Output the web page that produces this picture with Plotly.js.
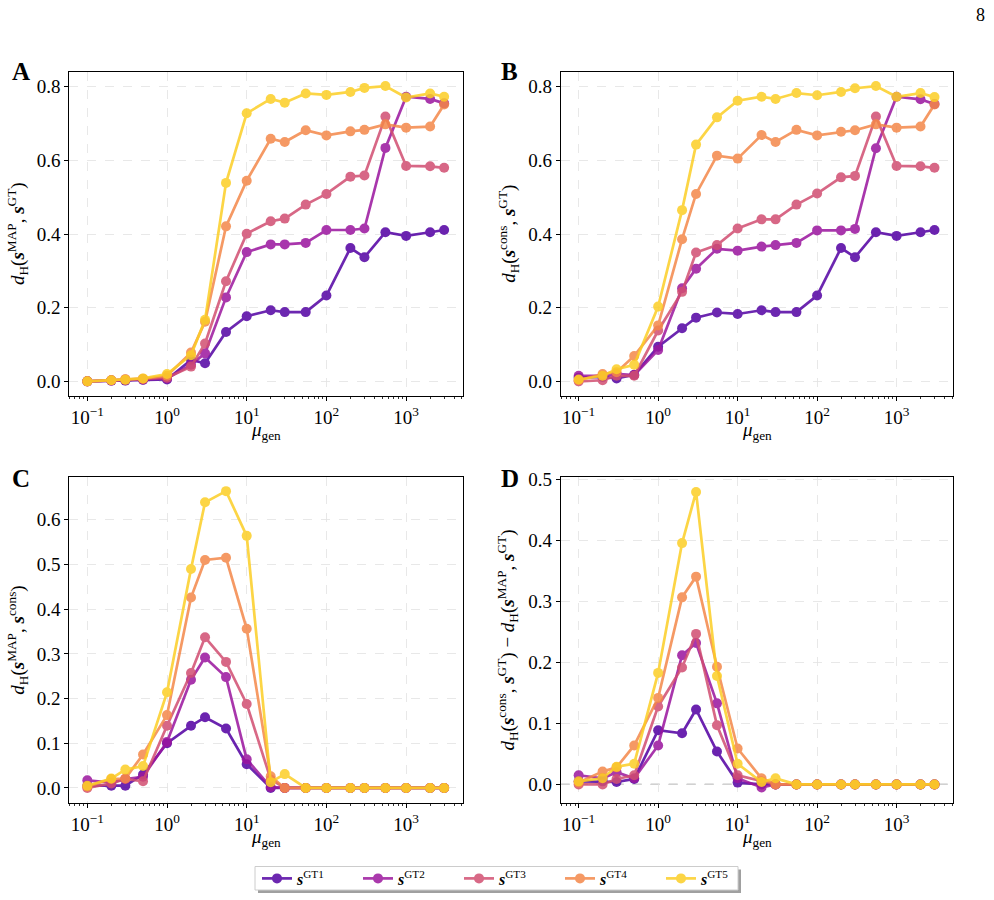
<!DOCTYPE html>
<html>
<head>
<meta charset="utf-8">
<script src="https://cdn.plot.ly/plotly-3.0.1.min.js"></script>
<style>
  html, body { margin: 0; padding: 0; background: #ffffff; }
  #chart { width: 994px; height: 900px; }
</style>
</head>
<body>
<div id="chart"></div>
<script>
// Generation rate values (log x axis)
const mu = [0.1, 0.2, 0.3, 0.5, 1, 2, 3, 5.5, 10, 20, 30, 55, 100, 200, 300, 550, 1000, 2000, 3000];

// Panel A: d_H(s^MAP, s^GT)
const mapGt1 = [0, 0.002, 0.002, 0.004, 0.005, 0.058, 0.049, 0.134, 0.177, 0.193, 0.188, 0.188, 0.233, 0.362, 0.337, 0.405, 0.395, 0.405, 0.411];
const mapGt2 = [0, 0.002, 0.003, 0.005, 0.008, 0.045, 0.076, 0.228, 0.351, 0.372, 0.372, 0.376, 0.411, 0.411, 0.415, 0.634, 0.773, 0.767, 0.755];
const mapGt3 = [0, 0.003, 0.005, 0.006, 0.010, 0.040, 0.103, 0.272, 0.401, 0.435, 0.442, 0.480, 0.509, 0.556, 0.559, 0.719, 0.585, 0.584, 0.580];
const mapGt4 = [0, 0.003, 0.006, 0.007, 0.015, 0.078, 0.162, 0.421, 0.545, 0.659, 0.650, 0.682, 0.668, 0.679, 0.683, 0.698, 0.689, 0.692, 0.752];
const mapGt5 = [0, 0.003, 0.004, 0.008, 0.020, 0.071, 0.167, 0.539, 0.728, 0.767, 0.757, 0.782, 0.778, 0.786, 0.797, 0.802, 0.771, 0.782, 0.773];

// Panel B: d_H(s^cons, s^GT)
const consGt1 = [0.010, 0.012, 0.008, 0.018, 0.094, 0.144, 0.173, 0.187, 0.183, 0.193, 0.188, 0.188, 0.233, 0.362, 0.337, 0.405, 0.395, 0.405, 0.411];
const consGt2 = [0.015, 0.015, 0.020, 0.017, 0.085, 0.253, 0.306, 0.360, 0.355, 0.366, 0.370, 0.376, 0.410, 0.410, 0.414, 0.633, 0.773, 0.766, 0.753];
const consGt3 = [0, 0.003, 0.015, 0.015, 0.138, 0.243, 0.350, 0.370, 0.415, 0.440, 0.440, 0.480, 0.510, 0.554, 0.558, 0.719, 0.585, 0.584, 0.580];
const consGt4 = [0.003, 0.020, 0.025, 0.069, 0.152, 0.386, 0.509, 0.613, 0.605, 0.669, 0.650, 0.683, 0.668, 0.678, 0.682, 0.698, 0.689, 0.692, 0.752];
const consGt5 = [0.005, 0.015, 0.033, 0.045, 0.203, 0.465, 0.643, 0.717, 0.762, 0.773, 0.767, 0.783, 0.777, 0.786, 0.796, 0.802, 0.773, 0.783, 0.772];

// Panel C: d_H(s^MAP, s^cons)
const mapCons1 = [0.005, 0.005, 0.005, 0.030, 0.100, 0.139, 0.158, 0.133, 0.053, 0, 0, 0, 0, 0, 0, 0, 0, 0, 0];
const mapCons2 = [0.017, 0.012, 0.020, 0.025, 0.103, 0.242, 0.292, 0.248, 0.064, 0.002, 0, 0, 0, 0, 0, 0, 0, 0, 0];
const mapCons3 = [0, 0.010, 0.020, 0.015, 0.139, 0.257, 0.337, 0.282, 0.188, 0.019, 0, 0, 0, 0, 0, 0, 0, 0, 0];
const mapCons4 = [0.003, 0.020, 0.021, 0.075, 0.163, 0.426, 0.510, 0.515, 0.356, 0.026, 0, 0, 0, 0, 0, 0, 0, 0, 0];
const mapCons5 = [0.005, 0.021, 0.041, 0.049, 0.214, 0.490, 0.639, 0.664, 0.564, 0.013, 0.031, 0, 0, 0, 0, 0, 0, 0, 0];

// Panel D: d_H(s^cons, s^GT) - d_H(s^MAP, s^GT)
const diff1 = [0.005, 0.005, 0.004, 0.009, 0.089, 0.084, 0.123, 0.054, 0.003, 0, 0, 0, 0, 0, 0, 0, 0, 0, 0];
const diff2 = [0.015, 0.010, 0.020, 0.010, 0.064, 0.212, 0.232, 0.133, 0.010, -0.005, 0, 0, 0, 0, 0, 0, 0, 0, 0];
const diff3 = [0, 0, 0.009, 0.015, 0.128, 0.192, 0.247, 0.097, 0.015, 0.005, 0, 0, 0, 0, 0, 0, 0, 0, 0];
const diff4 = [0.003, 0.021, 0.028, 0.064, 0.142, 0.307, 0.341, 0.193, 0.059, 0.010, 0, 0, 0, 0, 0, 0, 0, 0, 0];
const diff5 = [0.005, 0.010, 0.029, 0.034, 0.183, 0.396, 0.480, 0.178, 0.034, 0.004, 0.010, 0, 0, 0, 0, 0, 0, 0, 0];

const seriesNames = ['GT1', 'GT2', 'GT3', 'GT4', 'GT5'];
// plasma colormap samples
const seriesColors = ['#5302a3', '#9c179e', '#d24f71', '#f48849', '#fcce25'];

const xTickVals = [0.1, 1, 10, 100, 1000];
const xTickText = ['10<sup>\u22121</sup>', '10<sup>0</sup>', '10<sup>1</sup>', '10<sup>2</sup>', '10<sup>3</sup>'];

const panels = [
  { sets: [mapGt1, mapGt2, mapGt3, mapGt4, mapGt5], ax: '' },
  { sets: [consGt1, consGt2, consGt3, consGt4, consGt5], ax: '2' },
  { sets: [mapCons1, mapCons2, mapCons3, mapCons4, mapCons5], ax: '3' },
  { sets: [diff1, diff2, diff3, diff4, diff5], ax: '4' }
];

const serif = '"Liberation Serif", "DejaVu Serif", serif';
const W = 994, H = 900;
const px = (a, b) => [a / W, b / W];
const py = (top, bottom) => [1 - bottom / H, 1 - top / H];

const traces = [];
panels.forEach((p, pi) => {
  p.sets.forEach((ys, si) => {
    traces.push({
      type: 'scatter',
      mode: 'lines+markers',
      x: mu,
      y: ys,
      xaxis: 'x' + p.ax,
      yaxis: 'y' + p.ax,
      name: '<b><i>s</i></b><sup>' + seriesNames[si] + '</sup>',
      legendgroup: seriesNames[si],
      showlegend: pi === 0,
      opacity: 0.85,
      line: { color: seriesColors[si], width: 2.7 },
      marker: { color: seriesColors[si], size: 10 }
    });
  });
});

// minor tick positions for the log axes
const minorVals = [];
for (let e = -2; e <= 4; e++) {
  for (let k = 2; k <= 9; k++) minorVals.push(k * Math.pow(10, e));
}

const tickFont = { family: serif, size: 19, color: '#000' };
const titleFont = { family: serif, size: 19, color: '#000' };

function xAxis(domain, anchor) {
  return {
    type: 'log',
    domain: domain,
    anchor: anchor,
    range: [-1.226, 3.71],
    tickmode: 'array',
    tickvals: xTickVals,
    ticktext: xTickText,
    ticks: 'outside',
    ticklen: 4,
    tickwidth: 1,
    tickcolor: '#000',
    minor: { tickmode: 'array', tickvals: minorVals, ticks: 'outside', ticklen: 2, tickwidth: 0.8, tickcolor: '#000', showgrid: false },
    showline: true,
    linecolor: '#000',
    linewidth: 1,
    mirror: true,
    showgrid: true,
    gridcolor: '#e2e2e2',
    griddash: 'dash',
    gridwidth: 0.8,
    zeroline: false,
    tickfont: tickFont
  };
}

function yAxis(domain, anchor, range, dtick, title, standoff) {
  return {
    domain: domain,
    anchor: anchor,
    range: range,
    tick0: 0,
    dtick: dtick,
    tickformat: '.1f',
    ticks: 'outside',
    ticklen: 4,
    tickwidth: 1,
    tickcolor: '#000',
    showline: true,
    linecolor: '#000',
    linewidth: 1,
    mirror: true,
    showgrid: true,
    gridcolor: '#e2e2e2',
    griddash: 'dash',
    gridwidth: 0.8,
    zeroline: false,
    tickfont: tickFont,
    title: { text: title, font: titleFont, standoff: standoff }
  };
}

const S = '<b><i>s</i></b>';
const titleA = '<i>d</i><sub>H</sub>(' + S + '<sup>MAP</sup>, ' + S + '<sup>GT</sup>)';
const titleB = '<i>d</i><sub>H</sub>(' + S + '<sup>cons</sup>, ' + S + '<sup>GT</sup>)';
const titleC = '<i>d</i><sub>H</sub>(' + S + '<sup>MAP</sup>, ' + S + '<sup>cons</sup>)';
const titleD = '<i>d</i><sub>H</sub>(' + S + '<sup>cons</sup>, ' + S + '<sup>GT</sup>) \u2212 <i>d</i><sub>H</sub>(' + S + '<sup>MAP</sup>, ' + S + '<sup>GT</sup>)';
const xTitle = '<i>\u03bc</i><sub>gen</sub>';

const colL = px(69.3, 462.7), colR = px(560.7, 953);
const rowT = py(71.7, 395.7), rowB = py(477.3, 802.7);

const letter = (t, x, y) => ({
  text: '<b>' + t + '</b>', xref: 'paper', yref: 'paper',
  x: x / W, y: 1 - y / H, xanchor: 'left', yanchor: 'middle', showarrow: false,
  font: { family: serif, size: 25, color: '#000' }
});

// x axis titles placed just under the tick labels
const xLabel = (ax, y) => ({
  text: xTitle, xref: ax + ' domain', yref: 'paper', x: 0.5, y: 1 - y / H,
  xanchor: 'center', yanchor: 'middle', showarrow: false, font: titleFont
});

// legend frame (drawn as shapes so its size can be set exactly)
const legBox = { x0: 255, x1: 738, y0: 866.5, y1: 890 };

const layout = {
  width: W,
  height: H,
  autosize: false,
  margin: { l: 0, r: 0, t: 0, b: 0 },
  paper_bgcolor: '#ffffff',
  plot_bgcolor: '#ffffff',
  font: { family: serif, color: '#000' },
  xaxis: xAxis(colL, 'y'),
  yaxis: yAxis(rowT, 'x', [-0.039, 0.841], 0.2, titleA, 7),
  xaxis2: xAxis(colR, 'y2'),
  yaxis2: yAxis(rowT, 'x2', [-0.039, 0.841], 0.2, titleB, 7),
  xaxis3: xAxis(colL, 'y3'),
  yaxis3: yAxis(rowB, 'x3', [-0.033, 0.695], 0.1, titleC, 7),
  xaxis4: xAxis(colR, 'y4'),
  yaxis4: yAxis(rowB, 'x4', [-0.030, 0.504], 0.1, titleD, 8),
  showlegend: true,
  legend: {
    orientation: 'h',
    x: 257 / W, xanchor: 'left',
    y: 1 - 878.5 / H, yanchor: 'middle',
    bgcolor: 'rgba(0,0,0,0)',
    borderwidth: 0,
    itemwidth: 30,
    entrywidth: 56,
    tracegroupgap: 0,
    font: { family: serif, size: 16, color: '#000' }
  },
  shapes: [
    // zero reference line in panel D
    { type: 'line', xref: 'x4 domain', yref: 'y4', x0: 0, x1: 1, y0: 0, y1: 0,
      line: { color: '#8a8a8a', width: 1.2, dash: 'dash' }, layer: 'below' },
    // legend drop shadow
    { type: 'rect', xref: 'paper', yref: 'paper',
      x0: (legBox.x0 + 3) / W, x1: (legBox.x1 + 3) / W, y0: 1 - (legBox.y1 + 3) / H, y1: 1 - (legBox.y0 + 3) / H,
      fillcolor: '#a0a0a0', line: { width: 0 }, layer: 'above' },
    // legend frame
    { type: 'rect', xref: 'paper', yref: 'paper',
      x0: legBox.x0 / W, x1: legBox.x1 / W, y0: 1 - legBox.y1 / H, y1: 1 - legBox.y0 / H,
      fillcolor: '#ffffff', line: { color: '#cccccc', width: 1 }, layer: 'above' }
  ],
  annotations: [
    xLabel('x', 431),
    xLabel('x2', 431),
    xLabel('x3', 838),
    xLabel('x4', 838),
    letter('A', 10, 72),
    letter('B', 499, 72),
    letter('C', 10, 478),
    letter('D', 499, 478),
    { text: '8', xref: 'paper', yref: 'paper', x: 987 / W, y: 1 - 15 / H, xanchor: 'right', yanchor: 'middle',
      showarrow: false, font: { family: serif, size: 18, color: '#000' } }
  ]
};

Plotly.newPlot('chart', traces, layout, { displayModeBar: false, staticPlot: true });
</script>
</body>
</html>
